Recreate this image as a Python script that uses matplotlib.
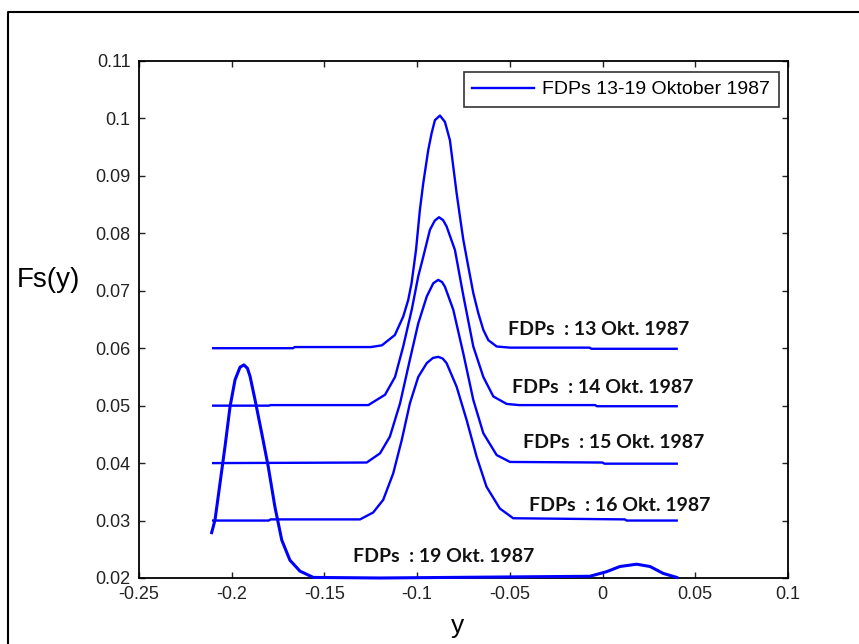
import numpy as np
import matplotlib.pyplot as plt
from matplotlib.lines import Line2D

# ---- data ----
x_13 = [-0.210, -0.167, -0.166, -0.125, -0.119, -0.112, -0.1075, -0.1048, -0.103,
        -0.1006, -0.0985, -0.0967, -0.094, -0.0922, -0.0904, -0.0877, -0.085,
        -0.0823, -0.0805, -0.0787, -0.0769, -0.0751, -0.0724, -0.0697, -0.0670,
        -0.0643, -0.0616, -0.0571, -0.050, -0.007, -0.006, 0.040]
y_13 = [0.0600, 0.0600, 0.0602, 0.0602, 0.0605, 0.0623, 0.0655, 0.0684, 0.0713,
        0.0771, 0.0841, 0.0887, 0.0945, 0.0974, 0.0997, 0.1005, 0.0994,
        0.0962, 0.0916, 0.0870, 0.0829, 0.0789, 0.0742, 0.0696, 0.0661,
        0.0632, 0.0614, 0.0603, 0.0601, 0.0601, 0.0599, 0.0599]

x_14 = [-0.210, -0.180, -0.179, -0.1263, -0.1173, -0.1119, -0.1075, -0.1029, -0.0994,
        -0.0967, -0.0931, -0.0905, -0.0882, -0.0860, -0.0841, -0.0796, -0.0751,
        -0.0697, -0.0643, -0.0589, -0.0517, -0.045, -0.004, -0.003, 0.040]
y_14 = [0.0500, 0.0500, 0.0501, 0.0501, 0.0519, 0.0550, 0.0603, 0.0667, 0.0725,
        0.0759, 0.0806, 0.0822, 0.0828, 0.0823, 0.0812, 0.0771, 0.0692,
        0.0603, 0.0550, 0.0516, 0.0503, 0.0501, 0.0501, 0.0499, 0.0499]

x_15 = [-0.210, -0.1272, -0.1200, -0.1147, -0.1092, -0.1039, -0.0994, -0.0948,
        -0.0913, -0.0886, -0.0865, -0.0850, -0.0805, -0.0751, -0.0697, -0.0643,
        -0.0571, -0.0499, 0.000, 0.001, 0.040]
y_15 = [0.0400, 0.0401, 0.0417, 0.0446, 0.0504, 0.0580, 0.0643, 0.0690,
        0.0713, 0.0719, 0.0715, 0.0707, 0.0667, 0.0591, 0.0510, 0.0452,
        0.0414, 0.0402, 0.0401, 0.0399, 0.0399]

x_16 = [-0.210, -0.180, -0.179, -0.1308, -0.1237, -0.1183, -0.1129, -0.1083, -0.1039,
        -0.0994, -0.0948, -0.0915, -0.0886, -0.0862, -0.0841, -0.0787, -0.0733,
        -0.0679, -0.0626, -0.0554, -0.0482, 0.012, 0.013, 0.040]
y_16 = [0.0300, 0.0300, 0.0302, 0.0302, 0.0314, 0.0336, 0.0382, 0.0440, 0.0504,
        0.0550, 0.0574, 0.0583, 0.0585, 0.0582, 0.0574, 0.0533, 0.0475,
        0.0411, 0.0359, 0.0321, 0.0304, 0.0302, 0.0300, 0.0300]

x_19 = [-0.2108, -0.2090, -0.2063, -0.2036, -0.2009, -0.1982, -0.1955, -0.1934,
        -0.1915, -0.1901, -0.1874, -0.1838, -0.1803, -0.1767, -0.1730, -0.1686,
        -0.1632, -0.1560, -0.1200, -0.0068, 0.0022, 0.0094, 0.0184, 0.0256,
        0.0327, 0.0400]
y_19 = [0.0279, 0.0301, 0.0365, 0.0429, 0.0498, 0.0545, 0.0567, 0.0571,
        0.0565, 0.0551, 0.0510, 0.0452, 0.0394, 0.0324, 0.0266, 0.0231,
        0.0212, 0.0201, 0.0200, 0.0203, 0.0211, 0.0220, 0.0224, 0.0220,
        0.0208, 0.0201]

curve_labels = ["FDPs  : 13 Okt. 1987", "FDPs  : 14 Okt. 1987", "FDPs  : 15 Okt. 1987",
                "FDPs  : 16 Okt. 1987", "FDPs  : 19 Okt. 1987"]
label_x = [-0.051, -0.0488, -0.0429, -0.0397, -0.1346]
label_y = [0.0632, 0.0531, 0.0435, 0.0327, 0.0237]

x_ticks = [-0.25, -0.2, -0.15, -0.1, -0.05, 0, 0.05, 0.1]
x_ticklabels = ["-0.25", "-0.2", "-0.15", "-0.1", "-0.05", "0", "0.05", "0.1"]
y_ticks = [0.02, 0.03, 0.04, 0.05, 0.06, 0.07, 0.08, 0.09, 0.1, 0.11]
y_ticklabels = ["0.02", "0.03", "0.04", "0.05", "0.06", "0.07", "0.08", "0.09", "0.1", "0.11"]

legend_text = "FDPs 13-19 Oktober 1987"

# ---- figure ----
plt.rcParams['font.family'] = ['Liberation Sans', 'DejaVu Sans']

fig = plt.figure(figsize=(8.59, 6.44), dpi=100)
ax = fig.add_axes([0.1618, 0.1025, 0.7555, 0.8028])

blue = '#0000ff'
lw = 1.7
style = dict(color=blue, lw=lw, solid_joinstyle='round', zorder=3)
ax.plot(x_13, y_13, label=legend_text, **style)
ax.plot(x_14, y_14, **style)
ax.plot(x_15, y_15, **style)
ax.plot(x_16, y_16, **style)
ax.plot(x_19, y_19, color=blue, lw=2.2, solid_joinstyle='round', zorder=4, clip_on=False)

for txt, tx, ty in zip(curve_labels, label_x, label_y):
    ax.text(tx, ty, txt, fontsize=14, fontweight='bold', family=['Lato', 'DejaVu Sans'],
            ha='left', va='center', color='#111111')

ax.set_xlim(-0.25, 0.1)
ax.set_ylim(0.02, 0.11)
ax.set_xticks(x_ticks)
ax.set_xticklabels(x_ticklabels)
ax.set_yticks(y_ticks)
ax.set_yticklabels(y_ticklabels)
ax.tick_params(direction='in', length=4, width=1, top=True, right=True,
               labelsize=13, pad=6, colors='#222222')
for sp in ax.spines.values():
    sp.set_linewidth(1.3)

ax.set_xlabel("y", fontsize=19)
ax.xaxis.set_label_coords(0.4915, -0.093)
ax.xaxis.label.set_va('center')
ax.set_ylabel("Fs(y)", fontsize=20, rotation=0)
ax.yaxis.set_label_coords(-0.140, 0.576)
ax.yaxis.label.set_va('center')
ax.yaxis.label.set_ha('center')

leg = ax.legend(loc='upper right', bbox_to_anchor=(0.986, 0.9787), fontsize=14,
                frameon=True, fancybox=False, handlelength=3.2, handletextpad=0.4,
                borderpad=0.45, borderaxespad=0)
leg.get_frame().set_edgecolor('black')
leg.get_frame().set_linewidth(1.2)

# outer frame of the original figure window
fig.add_artist(Line2D([0.0093, 0.0093, 1.0], [0.0, 0.9814, 0.9814],
                      transform=fig.transFigure, color='black', lw=1.5))

fig.savefig("out.png", dpi=100)
